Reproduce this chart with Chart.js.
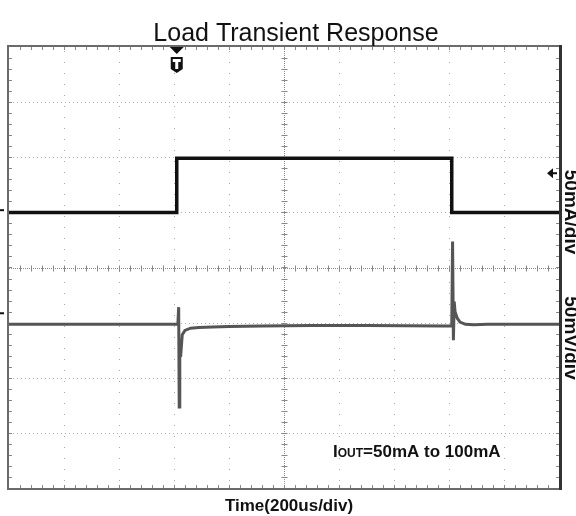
<!DOCTYPE html>
<html>
<head>
<meta charset="utf-8">
<script src="https://cdn.jsdelivr.net/npm/chart.js@4.4.0/dist/chart.umd.min.js"></script>
<style>
  html, body { margin: 0; padding: 0; background: #fff; }
  #wrap { width: 576px; height: 516px; }
</style>
</head>
<body>
<div id="wrap"><canvas id="scope"></canvas></div>
<script>
// Scope divisions: 10 horizontal (200us/div), 8 vertical, 0 = screen centre
const xDivs = [0, 1, 2, 3, 4, 5, 6, 7, 8, 9, 10];
const yDivs = [-4, -3, -2, -1, 0, 1, 2, 3, 4];

// Output current trace (50mA/div)
const curTime  = [0, 3.05, 3.05, 8.05, 8.05, 10];
const curLevel = [1.0, 1.0, 1.98, 1.98, 1.0, 1.0];

// Output voltage trace (50mV/div)
const voutTime  = [0, 1.5, 3.07, 3.085, 3.095, 3.105, 3.12, 3.15, 3.2, 3.3, 3.45, 3.7, 4.0,
                   4.6, 5.5, 6.5, 7.9, 8.05, 8.065, 8.08, 8.095, 8.11, 8.15,
                   8.2, 8.3, 8.45, 8.7, 9.3, 10];
const voutLevel = [-1.03, -1.03, -1.03, -0.72, -2.53, -1.35, -1.62, -1.22, -1.14, -1.1, -1.09, -1.08, -1.07,
                   -1.06, -1.05, -1.05, -1.06, -1.06, 0.47, -1.32, -0.62, -0.8, -0.92,
                   -0.99, -1.03, -1.04, -1.03, -1.03, -1.03];

const triggerTime = 3.05;
const triggerLevel = 1.71;
const chMarkers = [1.04, -0.83];

function pts(xs, ys) {
    return xs.map(function(x, i) { return { x: x, y: ys[i] }; });
}

const scopeDecor = {
    id: 'scopeDecor',
    beforeDatasetsDraw: function(chart) {
        const ctx = chart.ctx, a = chart.chartArea;
        const sx = chart.scales.x, sy = chart.scales.y;
        ctx.save();
        // dotted grid
        ctx.lineWidth = 1;
        xDivs.slice(1, -1).forEach(function(d) {
            if (d === 5) return;
            const px = Math.round(sx.getPixelForValue(d)) + 0.5;
            ctx.strokeStyle = '#a8a8a8';
            ctx.setLineDash([1, 10]);
            ctx.lineDashOffset = -4;
            ctx.beginPath(); ctx.moveTo(px, a.top); ctx.lineTo(px, a.bottom); ctx.stroke();
        });
        yDivs.slice(1, -1).forEach(function(d) {
            if (d === 0) return;
            const py = Math.round(sy.getPixelForValue(d)) + 0.5;
            ctx.strokeStyle = '#b0b0b0';
            ctx.setLineDash([1, 3]);
            ctx.lineDashOffset = 0;
            ctx.beginPath(); ctx.moveTo(a.left, py); ctx.lineTo(a.right, py); ctx.stroke();
        });
        // centre lines
        const cx = Math.round(sx.getPixelForValue(5)) + 0.5;
        const cy = Math.round(sy.getPixelForValue(0)) + 0.5;
        ctx.strokeStyle = '#8a8a8a';
        ctx.setLineDash([1, 1]);
        ctx.beginPath(); ctx.moveTo(cx, a.top); ctx.lineTo(cx, a.bottom); ctx.stroke();
        ctx.beginPath(); ctx.moveTo(a.left, cy); ctx.lineTo(a.right, cy); ctx.stroke();
        ctx.setLineDash([]);
        // sub-division ticks on centre lines and frame edges
        ctx.strokeStyle = '#888';
        for (let v = 0.2; v < 10; v += 0.2) {
            const px = Math.round(sx.getPixelForValue(v)) + 0.5;
            ctx.beginPath();
            ctx.moveTo(px, cy - 3); ctx.lineTo(px, cy + 3);
            ctx.moveTo(px, a.top); ctx.lineTo(px, a.top + 3);
            ctx.moveTo(px, a.bottom); ctx.lineTo(px, a.bottom - 3);
            ctx.stroke();
        }
        for (let v = -3.8; v < 4; v += 0.2) {
            const py = Math.round(sy.getPixelForValue(v)) + 0.5;
            ctx.beginPath();
            ctx.moveTo(cx - 3, py); ctx.lineTo(cx + 3, py);
            ctx.moveTo(a.left, py); ctx.lineTo(a.left + 3, py);
            ctx.moveTo(a.right, py); ctx.lineTo(a.right - 3, py);
            ctx.stroke();
        }
        ctx.restore();
    },
    afterDraw: function(chart) {
        const ctx = chart.ctx, a = chart.chartArea;
        const sx = chart.scales.x, sy = chart.scales.y;
        ctx.save();
        // frame
        ctx.strokeStyle = '#6a6a6a';
        ctx.lineWidth = 2;
        ctx.strokeRect(a.left - 1, a.top - 1, a.right - a.left + 2, a.bottom - a.top + 2);
        ctx.strokeStyle = '#333';
        ctx.lineWidth = 3;
        ctx.beginPath(); ctx.moveTo(a.right + 1.5, a.top - 2); ctx.lineTo(a.right + 1.5, a.bottom + 2); ctx.stroke();

        // trigger marker
        const tx = sx.getPixelForValue(triggerTime);
        ctx.fillStyle = '#111';
        ctx.beginPath();
        ctx.moveTo(tx - 7, a.top); ctx.lineTo(tx + 7, a.top); ctx.lineTo(tx, a.top + 7); ctx.closePath(); ctx.fill();
        ctx.beginPath();
        ctx.moveTo(tx - 6, a.top + 10); ctx.lineTo(tx + 6, a.top + 10);
        ctx.lineTo(tx + 6, a.top + 22); ctx.lineTo(tx, a.top + 26); ctx.lineTo(tx - 6, a.top + 22);
        ctx.closePath(); ctx.fill();
        ctx.fillStyle = '#fff';
        ctx.fillRect(tx - 4, a.top + 12, 8, 3);
        ctx.fillRect(tx - 1.5, a.top + 12, 3, 10);

        // trigger level arrow (right edge)
        const ty = sy.getPixelForValue(triggerLevel);
        ctx.fillStyle = '#111';
        ctx.beginPath();
        ctx.moveTo(a.right - 12, ty); ctx.lineTo(a.right - 6, ty - 5); ctx.lineTo(a.right - 6, ty + 5); ctx.closePath(); ctx.fill();
        ctx.fillRect(a.right - 7, ty - 1, 5, 2);

        // channel reference markers (left edge)
        chMarkers.forEach(function(v) {
            const py = sy.getPixelForValue(v);
            ctx.fillRect(0, py - 1, 4, 2);
        });

        // texts
        ctx.fillStyle = '#111';
        ctx.textAlign = 'center';
        ctx.textBaseline = 'alphabetic';
        ctx.font = '25px "Liberation Sans", Arial, sans-serif';
        ctx.fillText('Load Transient Response', 296, 41);
        ctx.font = 'bold 17px "Liberation Sans", Arial, sans-serif';
        ctx.fillText('Time(200us/div)', 289, 511);

        // IOUT annotation
        ctx.textAlign = 'left';
        let x0 = 333;
        const by = 457;
        ctx.font = 'bold 17px "Liberation Sans", Arial, sans-serif';
        ctx.fillText('I', x0, by); x0 += ctx.measureText('I').width;
        ctx.font = 'bold 12px "Liberation Sans", Arial, sans-serif';
        ctx.fillText('OUT', x0, by); x0 += ctx.measureText('OUT').width;
        ctx.font = 'bold 17px "Liberation Sans", Arial, sans-serif';
        ctx.fillText('=50mA to 100mA', x0, by);

        // channel scale labels, rotated
        ctx.font = 'bold 19px "Liberation Sans", Arial, sans-serif';
        ctx.textAlign = 'center';
        [['50mA/div', 212], ['50mV/div', 338]].forEach(function(l) {
            ctx.save();
            ctx.translate(565, l[1]);
            ctx.rotate(Math.PI / 2);
            ctx.fillText(l[0], 0, 0);
            ctx.restore();
        });
        ctx.restore();
    }
};

new Chart(document.getElementById('scope'), {
    type: 'scatter',
    data: {
        datasets: [{
            label: 'IOUT',
            data: pts(curTime, curLevel),
            showLine: true,
            borderColor: '#111',
            borderWidth: 3.5,
            pointRadius: 0,
            tension: 0
        }, {
            label: 'VOUT',
            data: pts(voutTime, voutLevel),
            showLine: true,
            borderColor: '#555',
            borderWidth: 3,
            pointRadius: 0,
            tension: 0
        }]
    },
    options: {
        responsive: true,
        maintainAspectRatio: false,
        animation: false,
        layout: { padding: { left: 9, right: 17, top: 47, bottom: 28 } },
        plugins: { legend: { display: false }, tooltip: { enabled: false }, title: { display: false } },
        scales: {
            x: { type: 'linear', min: 0, max: 10, display: false },
            y: { type: 'linear', min: -4, max: 4, display: false }
        }
    },
    plugins: [scopeDecor]
});
</script>
</body>
</html>
